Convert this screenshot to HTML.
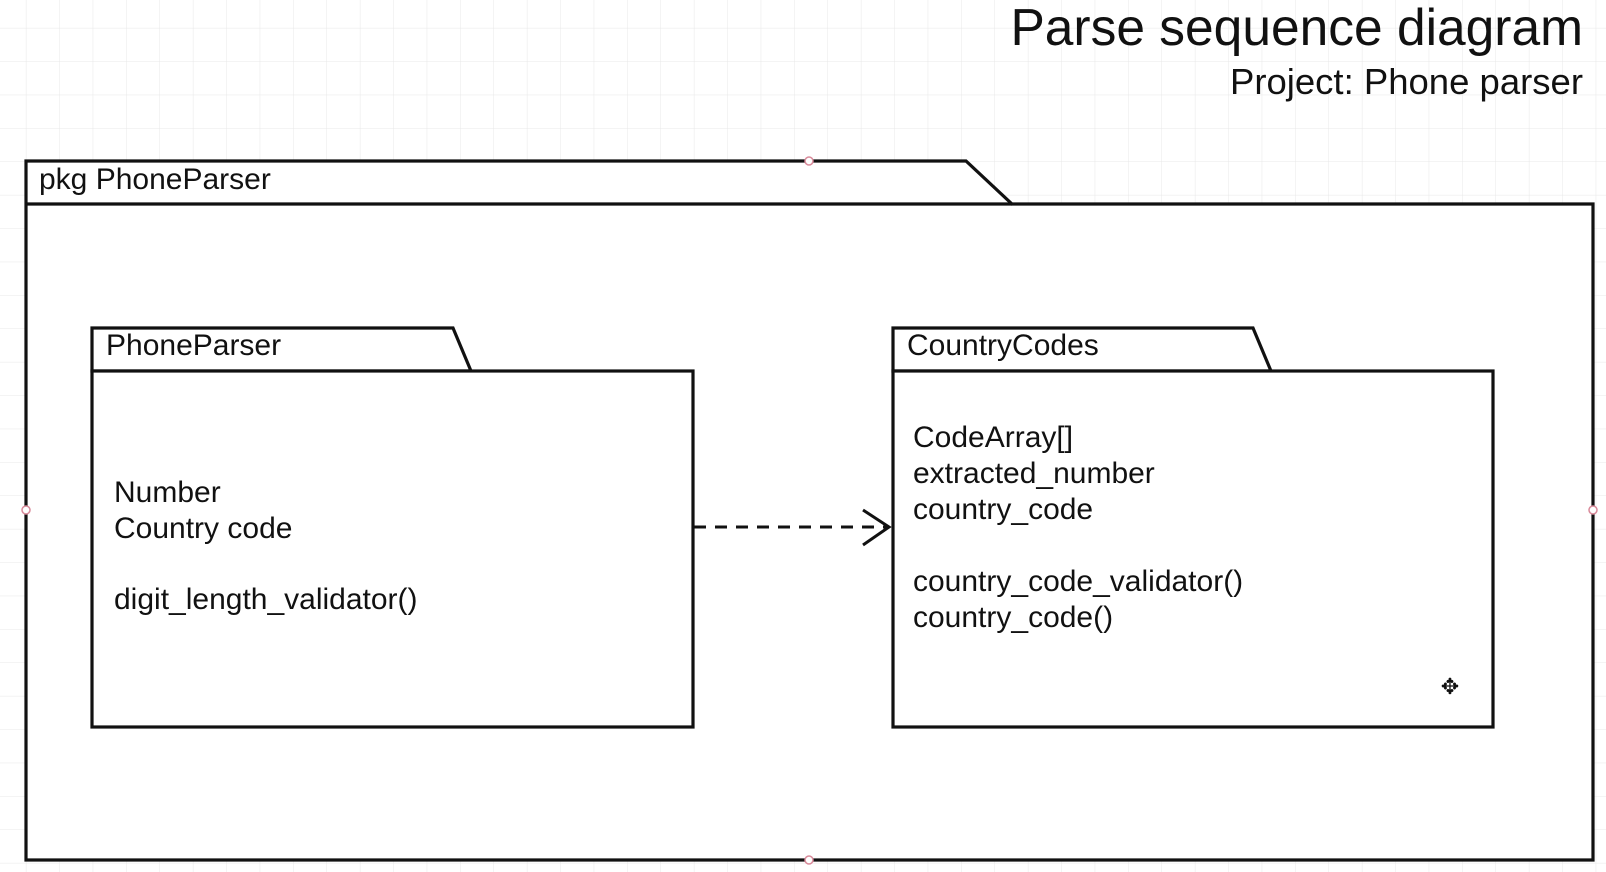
<!DOCTYPE html>
<html><head><style>
html,body{margin:0;padding:0;background:#fff;}
svg{display:block;}
text{font-family:"Liberation Sans",Arial,sans-serif;fill:#111;}
</style></head><body>
<svg width="1606" height="872" viewBox="0 0 1606 872" xmlns="http://www.w3.org/2000/svg">
<defs>
<pattern id="g" width="33.4" height="33.4" patternUnits="userSpaceOnUse" x="-7" y="-5">
<path d="M33.4 0V33.4M0 33.4H33.4" stroke="#e8e8e8" stroke-width="1" fill="none"/>
</pattern>
</defs>
<rect width="1606" height="872" fill="url(#g)"/>
<text x="1583" y="45" font-size="51.5" text-anchor="end">Parse sequence diagram</text>
<text x="1583" y="94" font-size="36.5" text-anchor="end">Project: Phone parser</text>
<g stroke="#111" stroke-width="3.2" fill="#fff">
<path d="M26 204V161H966L1012 204H1593V860H26Z"/>
<path d="M26 204H1012" fill="none"/>
<path d="M92 371V328H453L471 371Z"/>
<rect x="92" y="371" width="601" height="356"/>
<path d="M893 371V328H1253L1271 371Z"/>
<rect x="893" y="371" width="600" height="356"/>
</g>
<text x="39" y="189" font-size="30">pkg PhoneParser</text>
<text x="106" y="355" font-size="30">PhoneParser</text>
<text x="907" y="355" font-size="30">CountryCodes</text>
<g font-size="30">
<text x="114" y="502">Number</text>
<text x="114" y="538">Country code</text>
<text x="114" y="609">digit_length_validator()</text>
<text x="913" y="447">CodeArray[]</text>
<text x="913" y="483">extracted_number</text>
<text x="913" y="519">country_code</text>
<text x="913" y="591">country_code_validator()</text>
<text x="913" y="627">country_code()</text>
</g>
<path d="M694 527H889" stroke="#111" stroke-width="3" stroke-dasharray="12,9" fill="none"/>
<path d="M863 510L889 527L863 545" stroke="#111" stroke-width="3" fill="none"/>
<text x="1450" y="694" font-size="22" text-anchor="middle">✥</text>
<g fill="#fff" stroke="#d98a9a" stroke-width="1.5">
<circle cx="809" cy="161" r="4"/>
<circle cx="26" cy="510" r="4"/>
<circle cx="1593" cy="510" r="4"/>
<circle cx="809" cy="860" r="4"/>
</g>
</svg>
</body></html>
